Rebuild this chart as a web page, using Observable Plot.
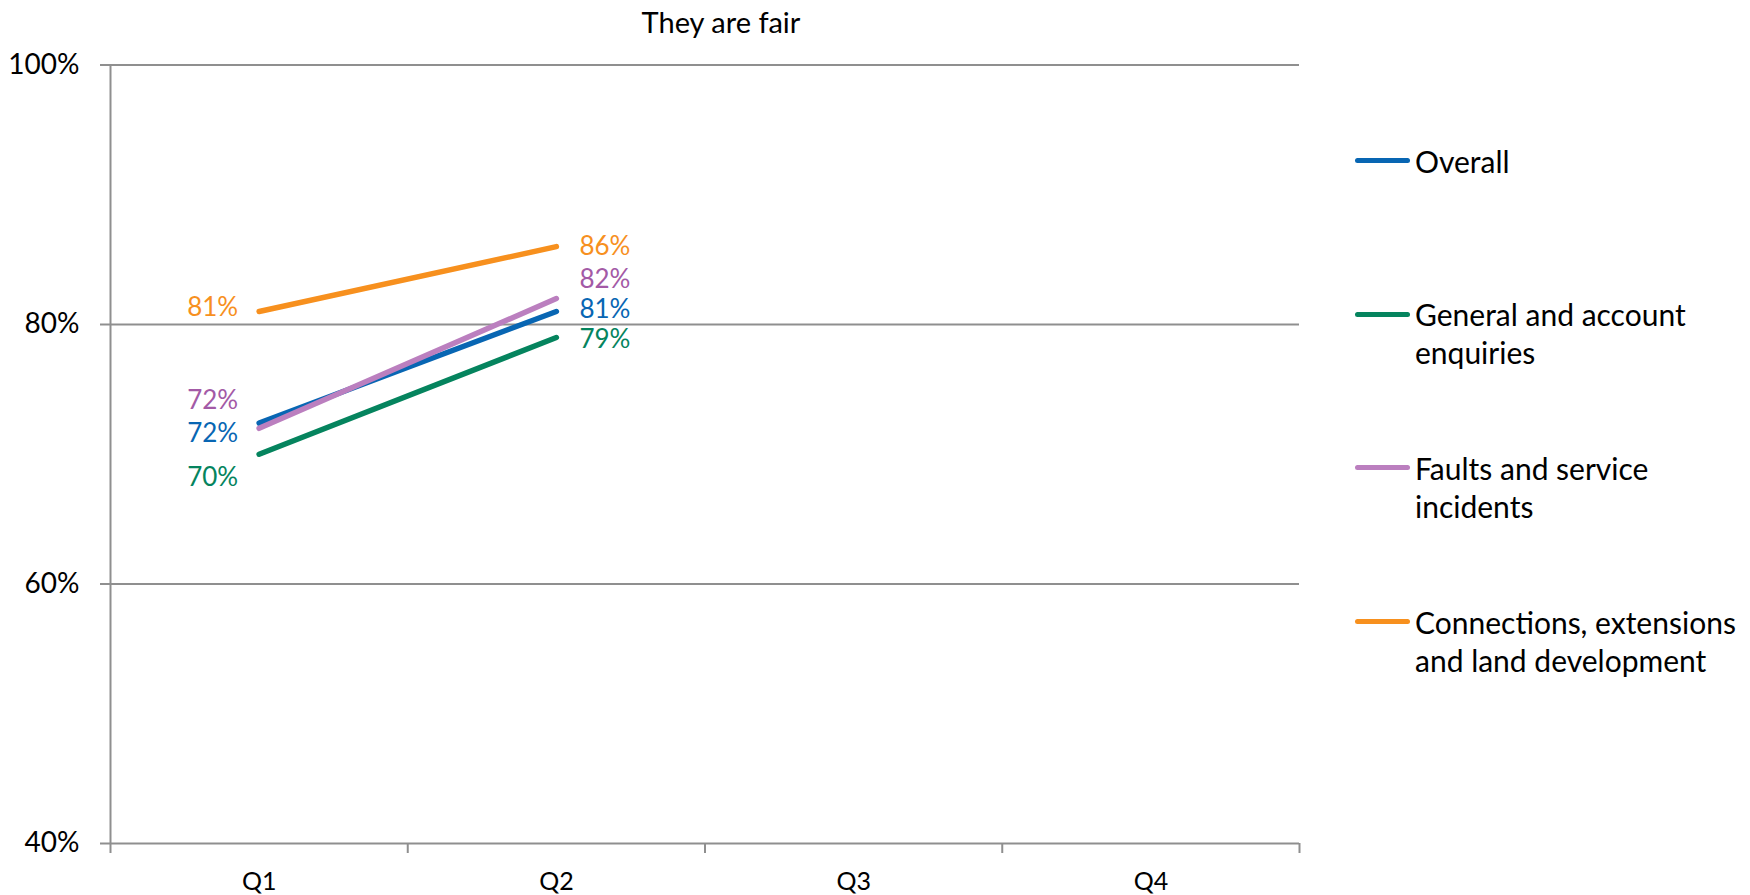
<!DOCTYPE html>
<html>
<head>
<meta charset="utf-8">
<script src="https://cdn.jsdelivr.net/npm/d3@7"></script>
<script src="https://cdn.jsdelivr.net/npm/@observablehq/plot@0.6"></script>
<style>
  html, body { margin: 0; padding: 0; background: #fff; }
  #chart { position: relative; width: 1750px; height: 895px; font-family: Lato, "Open Sans", sans-serif; color: #000; }
  #title { position: absolute; left: 0; width: 1442px; top: 4px; text-align: center; font-size: 29px; line-height: 36px; }
  .legend-item { position: absolute; left: 1355px; display: flex; align-items: flex-start; font-size: 30px; line-height: 38px; }
  .legend-item .swatch { width: 55px; height: 5px; border-radius: 3px; margin-top: 16.5px; margin-right: 5px; flex: none; }
  .legend-item .label { width: 330px; }
</style>
</head>
<body>
<div id="chart">
  <div id="title"></div>
</div>
<script>
// Quarters on the x axis
const quarters = ["Q1", "Q2", "Q3", "Q4"];

// Series names
const series = [
  "Overall",
  "General and account enquiries",
  "Faults and service incidents",
  "Connections, extensions and land development"
];

// Share answering "They are fair", per quarter reported so far
const overall = [0.724, 0.81];
const general = [0.70, 0.79];
const faults = [0.72, 0.82];
const connections = [0.81, 0.86];

// y axis ticks
const yTicks = [0.4, 0.6, 0.8, 1.0];

const titleText = "They are fair";

// Line and label colours per series
const lineColors = ["#0866b3", "#05845e", "#bb7fbf", "#f7901e"];
const labelColors = ["#0866b3", "#05845e", "#a35aa6", "#f7901e"];

// Vertical nudges (px) for the value labels, per series, per quarter,
// so that close labels do not collide
const labelNudge = [
  [11, -2],
  [23, 2],
  [-28, -19],
  [-4, 0]
];

const values = [overall, general, faults, connections];
const rows = series.flatMap((s, si) =>
  values[si].map((v, qi) => ({series: s, si, qi, x: qi + 1, v}))
);

const pct = d => Math.round(d * 100) + "%";
const gridColor = "#8f8f8f";

const labelMarks = rows.map(r =>
  Plot.text([r], {
    x: "x",
    y: "v",
    text: d => pct(d.v),
    fill: labelColors[r.si],
    fontSize: 26,
    textAnchor: r.qi === 0 ? "end" : "start",
    dx: r.qi === 0 ? -21 : 23,
    dy: labelNudge[r.si][r.qi]
  })
);

const boundaries = d3.range(quarters.length + 1).map(i => i + 0.5);

const chart = Plot.plot({
  width: 1750,
  height: 895,
  marginLeft: 110,
  marginRight: 451,
  marginTop: 64.5,
  marginBottom: 52,
  style: {fontFamily: "Lato, 'Open Sans', sans-serif", color: "#000", background: "#fff"},
  x: {type: "linear", domain: [0.5, quarters.length + 0.5]},
  y: {domain: [0.4, 1.0]},
  color: {domain: series, range: lineColors},
  marks: [
    Plot.ruleY(yTicks, {stroke: gridColor, strokeWidth: 2}),
    Plot.ruleX([0.5], {stroke: gridColor, strokeWidth: 2}),
    Plot.axisY({
      ticks: yTicks, tickFormat: pct, tickSize: 10, tickPadding: 21,
      fontSize: 28, stroke: gridColor, strokeWidth: 2, fill: "#000", label: null
    }),
    Plot.axisX({
      ticks: boundaries, tickFormat: () => "", tickSize: 10,
      stroke: gridColor, strokeWidth: 2, label: null
    }),
    Plot.axisX({
      ticks: quarters.map((q, i) => i + 1), tickFormat: i => quarters[i - 1],
      tickSize: 0, tickPadding: 29, fontSize: 25, fill: "#000", label: null
    }),
    Plot.line(rows, {
      x: "x", y: "v", z: "series", stroke: "series",
      strokeWidth: 5.5, strokeLinecap: "round", strokeLinejoin: "round"
    }),
    ...labelMarks
  ]
});

const root = document.getElementById("chart");
document.getElementById("title").textContent = titleText;
root.insertBefore(chart, root.firstChild);

// Legend to the right of the plot
series.forEach((s, i) => {
  const item = document.createElement("div");
  item.className = "legend-item";
  item.style.top = (141.5 + i * 153.7) + "px";
  const sw = document.createElement("div");
  sw.className = "swatch";
  sw.style.background = lineColors[i];
  const lab = document.createElement("div");
  lab.className = "label";
  lab.textContent = s;
  item.appendChild(sw);
  item.appendChild(lab);
  root.appendChild(item);
});
</script>
</body>
</html>
